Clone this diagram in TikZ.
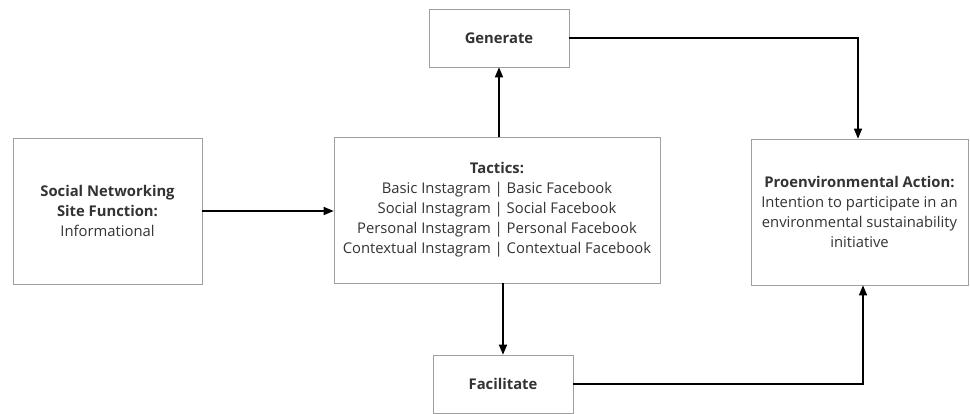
\documentclass[tikz,border=0pt]{standalone}
\usepackage{fontspec}
\setmainfont{Open Sans}
\usetikzlibrary{arrows,shapes}
\definecolor{boxgray}{HTML}{A0A0A0}
\definecolor{txtgray}{HTML}{333333}

\begin{document}
\begin{tikzpicture}[x=1pt,y=-1pt]
                \tikzstyle{box}=[draw=boxgray, line width=0.8pt, fill=white, inner sep=0pt, align=center, text=txtgray, font=\fontsize{14.8}{20}\selectfont]
                \tikzstyle{myarrows}=[line width=1.3pt, -triangle 45, black]
                \useasboundingbox (0,0) rectangle (970,414);

                \node[box, minimum width=189, minimum height=146] (sns) at (107.5,211) {\textbf{Social Networking}\\ \textbf{Site Function:}\\ Informational};
                \node[box, minimum width=326, minimum height=146] (tac) at (497,210) {\textbf{Tactics:}\\ Basic Instagram | Basic Facebook\\ Social Instagram | Social Facebook\\ Personal Instagram | Personal Facebook\\ Contextual Instagram | Contextual Facebook};
                \node[box, minimum width=140, minimum height=58] (gen) at (499,38) {\textbf{Generate}};
                \node[box, minimum width=140, minimum height=58] (fac) at (503,384) {\textbf{Facilitate}};
                \node[box, minimum width=217, minimum height=146] (pea) at (859.5,212) {\textbf{Proenvironmental Action:}\\ Intention to participate in an\\ environmental sustainability\\ initiative};

                \draw[myarrows] (sns.east) -- (sns.east -| tac.west);
                \draw[myarrows] (tac.north -| gen.south) -- (gen.south);
                \draw[myarrows] (tac.south -| fac.north) -- (fac.north);
                \draw[myarrows] (gen.east) -| ([xshift=-1.5]pea.north);
                \draw[myarrows] (fac.east) -| ([xshift=3.5]pea.south);

                \end{tikzpicture}
\end{document}
